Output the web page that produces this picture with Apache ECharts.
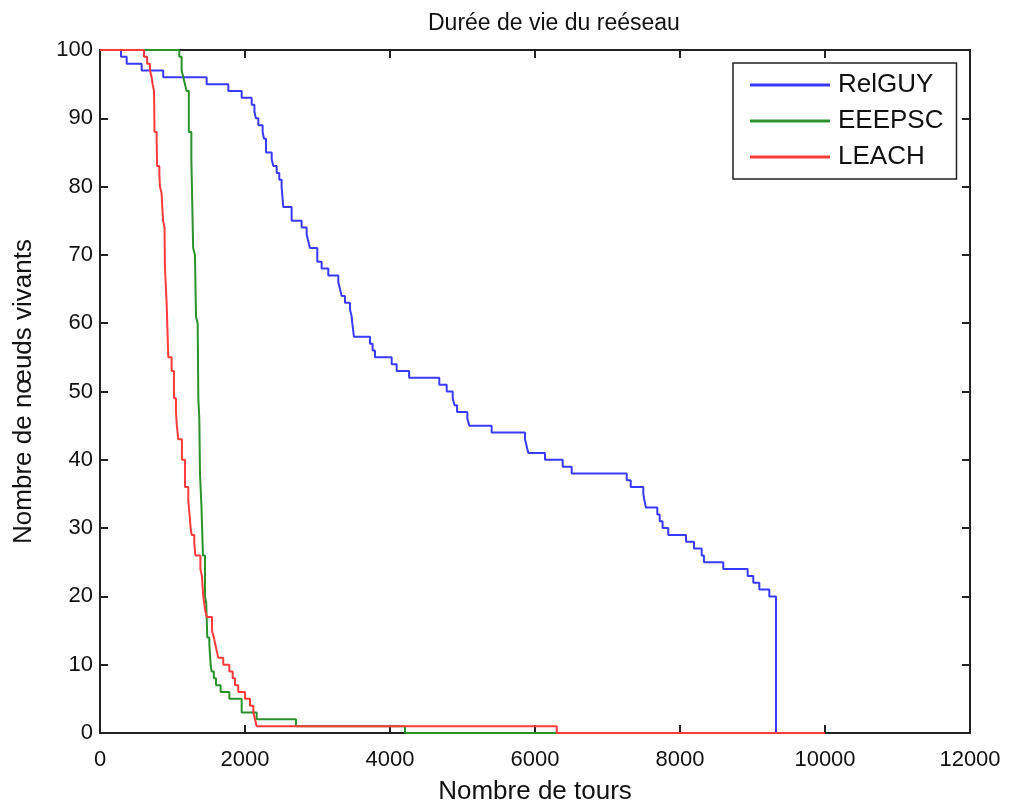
<!DOCTYPE html>
<html>
<head>
<meta charset="utf-8">
<script src="https://cdn.jsdelivr.net/npm/echarts@6/dist/echarts.min.js"></script>
<style>
html,body{margin:0;padding:0;background:#fff;overflow:hidden;}
#chart{width:1012px;height:803px;}
</style>
</head>
<body>
<div id="chart"></div>
<script>
// Data: [round, alive nodes] — value holds from this round until the next entry
const relguy = [[0,100],[290,99],[368,98],[575,97],[872,96],[1471,95],[1770,94],[1954,93],[2092,92],[2130,91],[2150,90],[2184,89],[2243,88],[2262,87],[2290,85],[2368,84],[2391,83],[2437,82],[2473,81],[2505,80],[2528,77],[2643,75],[2781,74],[2850,73],[2873,72],[2896,71],[2997,69],[3057,68],[3149,67],[3287,66],[3310,65],[3333,64],[3379,63],[3448,62],[3471,61],[3480,60],[3503,58],[3724,57],[3760,56],[3793,55],[4023,54],[4092,53],[4264,52],[4680,51],[4782,50],[4865,49],[4890,48],[4925,47],[5067,46],[5094,45],[5402,44],[5862,43],[5885,42],[5908,41],[6138,40],[6382,39],[6506,38],[7265,37],[7320,36],[7494,35],[7510,34],[7530,33],[7687,32],[7720,31],[7760,30],[7838,29],[8083,28],[8193,27],[8299,26],[8330,25],[8597,24],[8933,23],[9011,22],[9094,21],[9232,20],[9324,0],[10000,0]];
const eeepsc = [[0,100],[1094,99],[1126,97],[1149,96],[1172,95],[1195,94],[1225,88],[1260,84],[1285,71],[1310,70],[1324,61],[1347,60],[1356,49],[1370,46],[1379,38],[1400,33],[1420,26],[1448,20],[1465,19],[1480,14],[1508,13],[1526,10],[1540,9],[1570,8],[1600,7],[1664,6],[1784,5],[1954,3],[2161,2],[2703,1],[4207,0],[10000,0]];
const leach = [[0,100],[607,99],[650,98],[690,97],[712,96],[726,95],[745,94],[752,88],[781,87],[788,83],[818,82],[827,80],[850,79],[859,77],[870,75],[890,74],[896,68],[919,63],[942,55],[988,53],[1020,49],[1048,47],[1060,45],[1080,43],[1130,40],[1172,36],[1218,34],[1235,32],[1250,30],[1264,29],[1300,28],[1315,26],[1385,24],[1405,23],[1425,20],[1450,18],[1471,17],[1545,15],[1570,14],[1590,13],[1610,12],[1632,11],[1700,10],[1784,9],[1830,8],[1862,7],[1907,6],[2000,5],[2069,4],[2115,3],[2138,2],[2161,1],[6300,0],[10000,0]];
const seriesNames = ['RelGUY','EEEPSC','LEACH'];
const seriesColors = ['#3a3aff','#2a922a','#ff3a3a'];
const titleText = 'Durée de vie du reéseau';
const xTitle = 'Nombre de tours';
const yTitle = 'Nombre de nœuds vivants';

const FONT = "'Liberation Sans', Arial, sans-serif";
const chart = echarts.init(document.getElementById('chart'), null, {renderer:'canvas', width:1012, height:803});
const axisCommon = {
  axisLine:{show:true, onZero:false, lineStyle:{color:'#222', width:2}},
  axisTick:{show:true, inside:true, length:8, lineStyle:{color:'#222', width:2}},
  splitLine:{show:false}
};
chart.setOption({
  animation:false,
  backgroundColor:'#fff',
  title:{text:titleText, left:423, top:7, textStyle:{fontFamily:FONT, fontSize:23, fontWeight:'normal', color:'#111'}},
  grid:{left:100, right:42, top:50, bottom:70, containLabel:false, outerBoundsMode:'none'},
  legend:{
    orient:'vertical', left:733, top:63, data:seriesNames,
    icon:'rect', itemWidth:80, itemHeight:3, itemGap:10,
    backgroundColor:'#fff', borderColor:'#222', borderWidth:1.5,
    padding:[9,13,9,17],
    textStyle:{fontFamily:FONT, fontSize:26, color:'#111', padding:[0,0,0,3]}
  },
  xAxis:[
    Object.assign({type:'value', min:0, max:12000, interval:2000, position:'bottom',
      name:xTitle, nameLocation:'middle', nameGap:46,
      nameTextStyle:{fontFamily:FONT, fontSize:26, color:'#111'},
      axisLabel:{fontFamily:FONT, fontSize:22, color:'#111', margin:16, formatter:(v)=>String(v)}}, axisCommon),
    Object.assign({type:'value', min:0, max:12000, interval:2000, position:'top',
      axisLabel:{show:false}}, axisCommon)
  ],
  yAxis:[
    Object.assign({type:'value', min:0, max:100, interval:10, position:'left',
      name:yTitle, nameLocation:'middle', nameGap:63,
      nameTextStyle:{fontFamily:FONT, fontSize:26, color:'#111'},
      axisLabel:{fontFamily:FONT, fontSize:22, color:'#111', margin:7}}, axisCommon),
    Object.assign({type:'value', min:0, max:100, interval:10, position:'right',
      axisLabel:{show:false}}, axisCommon)
  ],
  series:[relguy, eeepsc, leach].map((d,i)=>({
    name:seriesNames[i], type:'line', step:'end', data:d,
    symbol:'none', showSymbol:false,
    lineStyle:{color:seriesColors[i], width:2},
    itemStyle:{color:seriesColors[i]},
    xAxisIndex:0, yAxisIndex:0, z:2+i
  }))
});
</script>
</body>
</html>
